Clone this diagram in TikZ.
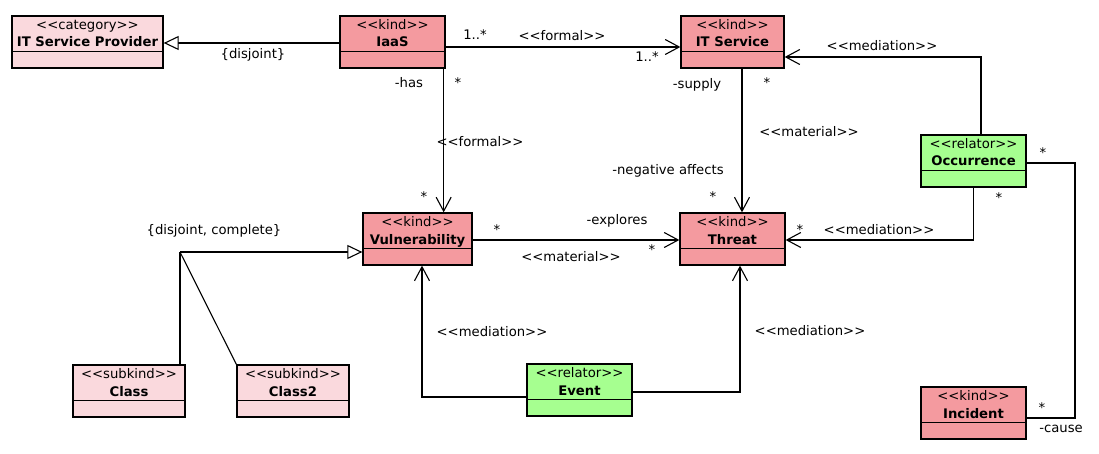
\documentclass[tikz,border=0pt]{standalone}
\usepackage{fontspec}
\newfontfamily\umlfont{DejaVu Sans}
\usetikzlibrary{arrows.meta}
\definecolor{kindc}{RGB}{244,154,159}
\definecolor{lightc}{RGB}{250,217,221}
\definecolor{relc}{RGB}{166,255,144}
\newcommand{\stx}[1]{<\kern0pt<#1>\kern0pt>}
\tikzset{
  cls/.style={draw=black, line width=1.3pt, minimum height=52pt, inner sep=0pt},
  txt/.style={font=\umlfont\fontsize{13.2}{15}\selectfont, inner sep=0pt, text height=10pt, text depth=2.7pt},
  nm/.style={font=\umlfont\bfseries\fontsize{13.2}{15}\selectfont, inner sep=0pt, text height=10pt, text depth=2.7pt},
  conn/.style={line width=1.1pt},
  nav/.style={conn, -{Straight Barb[length=14pt,width=15pt,line width=1.1pt]}},
  gen/.style={conn, -{Triangle[open,length=15pt,width=14pt,fill=white,line width=1.1pt]}},
}
\newcommand{\umlclass}[7]{%
  \node[cls, fill=#5, minimum width=#4pt] (#1) at (#2,#3) {};
  \draw[line width=1.3pt] ([yshift=-36pt]#1.north west) -- ([yshift=-36pt]#1.north east);
  \node[txt] (#1-st) at ([yshift=-10.5pt]#1.north) {\stx{#6}};
  \node[nm] (#1-nm) at ([yshift=-28pt]#1.north) {#7};
}
\begin{document}
\begin{tikzpicture}[x=1pt,y=-1pt]
\useasboundingbox[fill=white] (0,0) rectangle (1099,454);

\umlclass{itsp}{87.5}{42}{151}{lightc}{category}{IT Service Provider}
\umlclass{iaas}{392.5}{42}{105}{kindc}{kind}{IaaS}
\umlclass{its}{732.5}{42}{103}{kindc}{kind}{IT Service}
\umlclass{vuln}{417.5}{239}{109}{kindc}{kind}{Vulnerability}
\umlclass{threat}{732.5}{239}{105}{kindc}{kind}{Threat}
\umlclass{occ}{973.5}{161}{105}{relc}{relator}{Occurrence}
\umlclass{event}{579.5}{390}{105}{relc}{relator}{Event}
\umlclass{inc}{973.5}{413}{105}{kindc}{kind}{Incident}
\umlclass{cla}{129}{391}{112}{lightc}{subkind}{Class}
\umlclass{clb}{293}{391}{112}{lightc}{subkind}{Class2}

\coordinate (junc) at (180,252);
\coordinate (rail) at (1075,300);

% connectors
\draw[gen] ([yshift=-1pt]iaas.west) -- ([yshift=-1pt]itsp.east);
\draw[nav] ([yshift=-5pt]iaas.east) -- ([yshift=-5pt]its.west);
\draw[nav, line width=1.5pt] ([xshift=-2pt]iaas.south east) -- ([xshift=-2pt]iaas.south east |- vuln.north);
\draw[nav] ([xshift=9.5pt]its.south) -- ([xshift=9.5pt]its.south |- threat.north);
\draw[nav] ([xshift=7.5pt]occ.north) |- ([yshift=-15pt]its.east);
\draw[nav] (occ.south) |- ([yshift=-1pt]threat.east);
\draw[conn] ([yshift=-2pt]occ.east) -| (rail) |- ([yshift=-5pt]inc.east);
\draw[nav] ([yshift=-1pt]vuln.east) -- ([yshift=-1pt]threat.west);
\draw[nav] ([yshift=-7pt]event.west) -| ([xshift=4.5pt]vuln.south);
\draw[nav] ([yshift=-2pt]event.east) -| ([xshift=7.5pt]threat.south);
\draw[gen] (junc) -- (junc -| vuln.west);
\draw[conn] (junc) -- (junc |- cla.north);
\draw[conn] (junc) -- (clb.north west);

% labels
\node[txt] (l1) at (253,55) {\{disjoint\}};
\node[txt] (l2) at (475,36) {1..*};
\node[txt] (l3) at (562,37) {\stx{formal}};
\node[txt] (l4) at (647,58) {1..*};
\node[txt] (l5) at (409,84) {-has};
\node[txt] (l6) at (458,84) {*};
\node[txt] (l7) at (480,143) {\stx{formal}};
\node[txt] (l8) at (424,198) {*};
\node[txt] (l9) at (697,85) {-supply};
\node[txt] (l10) at (767,84) {*};
\node[txt] (l11) at (809,133) {\stx{material}};
\node[txt] (l12) at (668,171) {-negative affects};
\node[txt] (l13) at (713,198) {*};
\node[txt] (l14) at (882,47) {\stx{mediation}};
\node[txt] (l15) at (999,199) {*};
\node[txt] (l16) at (800,231) {*};
\node[txt] (l17) at (879,231) {\stx{mediation}};
\node[txt] (l18) at (1043,154) {*};
\node[txt] (l19) at (1042,409) {*};
\node[txt] (l20) at (1061,429) {-cause};
\node[txt] (l21) at (497,231) {*};
\node[txt] (l22) at (617,221) {-explores};
\node[txt] (l23) at (652,251) {*};
\node[txt] (l24) at (571,258) {\stx{material}};
\node[txt] (l25) at (492,333) {\stx{mediation}};
\node[txt] (l26) at (810,332) {\stx{mediation}};
\node[txt] (l27) at (214,231) {\{disjoint, complete\}};
\end{tikzpicture}
\end{document}
